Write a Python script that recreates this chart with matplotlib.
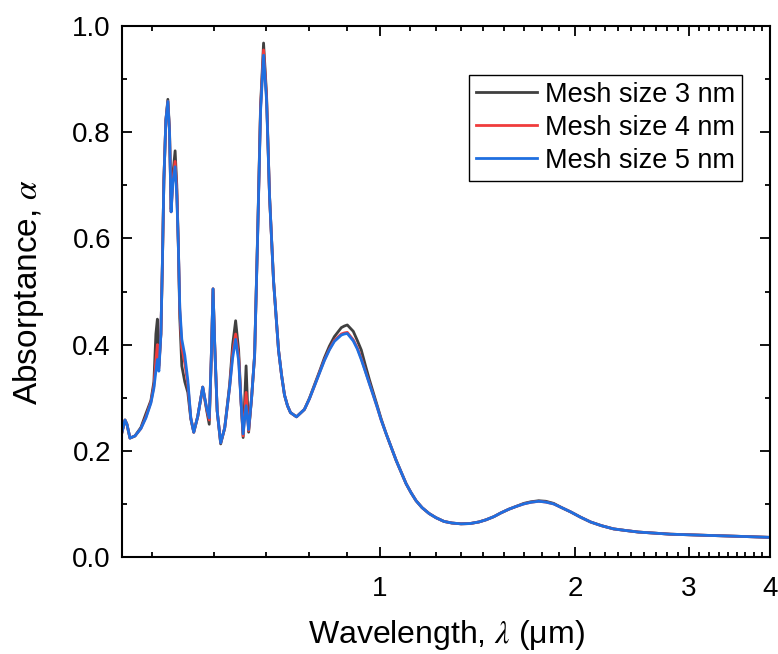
import matplotlib
matplotlib.use('Agg')
import matplotlib.pyplot as plt
from matplotlib.ticker import FixedLocator, NullFormatter

plt.rcParams['font.family'] = ['Liberation Sans', 'DejaVu Sans']
plt.rcParams['mathtext.fontset'] = 'stix'

# wavelength (um)
wavelength = [
    0.4000, 0.4043, 0.4071, 0.4115, 0.4189, 0.4278, 0.4355, 0.4433, 0.4480, 0.4512,
    0.4536, 0.4560, 0.4593, 0.4617, 0.4642, 0.4675, 0.4708, 0.4736, 0.4763, 0.4792,
    0.4831, 0.4860, 0.4886, 0.4912, 0.4947, 0.5000, 0.5054, 0.5108, 0.5162, 0.5236,
    0.5329, 0.5406, 0.5454, 0.5492, 0.5528, 0.5561, 0.5610, 0.5680, 0.5762, 0.5864,
    0.5927, 0.5990, 0.6054, 0.6108, 0.6152, 0.6217, 0.6273, 0.6340, 0.6408, 0.6476,
    0.6545, 0.6615, 0.6686, 0.6757, 0.6854, 0.6976,
    0.7051, 0.7126, 0.7202, 0.7279, 0.7436, 0.7649, 0.7786, 0.7925, 0.8067, 0.8211,
    0.8357, 0.8507, 0.8721, 0.8814, 0.8908, 0.9099, 0.9229, 0.9361, 0.9494, 0.9630,
    0.9767, 0.9907, 1.0047, 1.0227, 1.0410, 1.0596, 1.0785, 1.0978, 1.1174, 1.1374,
    1.1618, 1.1910, 1.2208, 1.2560, 1.2921, 1.3340, 1.3773, 1.4218, 1.4576, 1.4994,
    1.5370, 1.5813, 1.6209, 1.6676, 1.7094, 1.7585, 1.8027, 1.8545, 1.9078, 1.9696,
    2.0405, 2.1141, 2.1981, 2.2935, 2.3932, 2.5060, 2.6520, 2.8067, 3.1549, 3.5711, 4.0000,
]

mesh5 = [
    0.235, 0.258, 0.250, 0.224, 0.228, 0.242, 0.262, 0.290, 0.318, 0.350,
    0.372, 0.350, 0.420, 0.550, 0.710, 0.823, 0.858, 0.800, 0.650, 0.705,
    0.735, 0.680, 0.590, 0.470, 0.410, 0.380, 0.333, 0.262, 0.235, 0.265,
    0.320, 0.280, 0.262, 0.370, 0.505, 0.400, 0.275, 0.215, 0.243, 0.320,
    0.375, 0.410, 0.370, 0.290, 0.232, 0.285, 0.240, 0.300, 0.380, 0.600,
    0.840, 0.945, 0.860, 0.680, 0.520, 0.390,
    0.343, 0.305, 0.285, 0.272, 0.264, 0.278, 0.298, 0.322, 0.346, 0.370,
    0.390, 0.406, 0.418, 0.420, 0.421, 0.407, 0.392, 0.372, 0.350, 0.327,
    0.305, 0.282, 0.258, 0.232, 0.207, 0.182, 0.160, 0.138, 0.121, 0.106,
    0.093, 0.082, 0.074, 0.067, 0.064, 0.0625, 0.063, 0.066, 0.070, 0.076,
    0.083, 0.090, 0.095, 0.100, 0.103, 0.105, 0.1035, 0.100, 0.093, 0.085,
    0.075, 0.066, 0.059, 0.053, 0.050, 0.047, 0.045, 0.043, 0.041, 0.039, 0.037,
]

mesh4 = [
    0.235, 0.258, 0.250, 0.224, 0.228, 0.242, 0.264, 0.292, 0.322, 0.370,
    0.400, 0.355, 0.420, 0.550, 0.710, 0.823, 0.858, 0.800, 0.650, 0.710,
    0.745, 0.690, 0.590, 0.465, 0.395, 0.365, 0.325, 0.262, 0.235, 0.265,
    0.320, 0.278, 0.258, 0.370, 0.505, 0.400, 0.275, 0.215, 0.243, 0.320,
    0.385, 0.420, 0.378, 0.290, 0.228, 0.310, 0.238, 0.300, 0.380, 0.600,
    0.845, 0.955, 0.865, 0.680, 0.520, 0.390,
    0.343, 0.305, 0.285, 0.272, 0.264, 0.278, 0.298, 0.322, 0.347, 0.371,
    0.391, 0.408, 0.420, 0.422, 0.423, 0.409, 0.394, 0.374, 0.351, 0.328,
    0.305, 0.282, 0.258, 0.232, 0.207, 0.182, 0.160, 0.138, 0.121, 0.106,
    0.093, 0.082, 0.074, 0.067, 0.064, 0.0625, 0.063, 0.066, 0.070, 0.076,
    0.083, 0.090, 0.095, 0.100, 0.103, 0.105, 0.1035, 0.100, 0.093, 0.085,
    0.075, 0.066, 0.059, 0.053, 0.050, 0.047, 0.045, 0.043, 0.041, 0.039, 0.037,
]

mesh3 = [
    0.235, 0.258, 0.250, 0.224, 0.228, 0.244, 0.270, 0.295, 0.330, 0.420,
    0.448, 0.360, 0.420, 0.550, 0.710, 0.823, 0.862, 0.805, 0.655, 0.720,
    0.765, 0.700, 0.590, 0.450, 0.360, 0.330, 0.310, 0.260, 0.235, 0.265,
    0.320, 0.275, 0.250, 0.370, 0.505, 0.400, 0.275, 0.213, 0.243, 0.325,
    0.400, 0.445, 0.390, 0.290, 0.225, 0.360, 0.235, 0.300, 0.380, 0.605,
    0.850, 0.968, 0.870, 0.680, 0.520, 0.390,
    0.343, 0.305, 0.285, 0.272, 0.264, 0.278, 0.299, 0.324, 0.349, 0.375,
    0.397, 0.415, 0.432, 0.435, 0.437, 0.425, 0.408, 0.390, 0.362, 0.335,
    0.310, 0.285, 0.260, 0.232, 0.207, 0.182, 0.160, 0.138, 0.121, 0.106,
    0.093, 0.082, 0.074, 0.067, 0.064, 0.0625, 0.063, 0.066, 0.070, 0.076,
    0.083, 0.090, 0.095, 0.101, 0.104, 0.106, 0.105, 0.101, 0.093, 0.085,
    0.075, 0.066, 0.059, 0.053, 0.050, 0.047, 0.045, 0.043, 0.041, 0.039, 0.037,
]

labels = ['Mesh size 3 nm', 'Mesh size 4 nm', 'Mesh size 5 nm']
colors = ['#404040', '#f03c3c', '#1f6fe0']

fig = plt.figure(figsize=(7.78, 6.54), dpi=100)
ax = fig.add_axes([0.1568, 0.1483, 0.8329, 0.8119])

for y, lab, c in zip([mesh3, mesh4, mesh5], labels, colors):
    ax.plot(wavelength, y, color=c, lw=2, label=lab)

ax.set_xscale('log')
ax.set_xlim(0.4, 4.0)
ax.set_ylim(0.0, 1.0)

ax.xaxis.set_major_locator(FixedLocator([1, 2, 3, 4]))
ax.set_xticklabels(['1', '2', '3', '4'])
ax.xaxis.set_minor_locator(FixedLocator([n / 9 for n in range(4, 36) if n % 9 != 0]))
ax.xaxis.set_minor_formatter(NullFormatter())
ax.set_yticks([0.0, 0.2, 0.4, 0.6, 0.8, 1.0])
ax.set_yticks([0.1, 0.3, 0.5, 0.7, 0.9], minor=True)
ax.set_yticklabels(['0.0', '0.2', '0.4', '0.6', '0.8', '1.0'])

ax.tick_params(which='both', direction='in', top=True, right=True, width=1.3, labelsize=20)
ax.tick_params(which='major', length=7)
ax.tick_params(which='minor', length=3.5)
ax.tick_params(axis='x', which='major', pad=14)
ax.tick_params(axis='y', which='major', pad=8)
for s in ax.spines.values():
    s.set_linewidth(1.5)

ax.set_xlabel('Wavelength, $\\lambda$ (μm)', fontsize=23, labelpad=11)
ax.set_ylabel('Absorptance, $\\alpha$', fontsize=24, labelpad=19)

leg = ax.legend(loc='upper right', bbox_to_anchor=(0.957, 0.908), borderaxespad=0,
                fontsize=19.5, frameon=True, fancybox=False, framealpha=1,
                edgecolor='black', handlelength=2.25, handletextpad=0.3,
                labelspacing=0.26, borderpad=0.25)
leg.get_frame().set_linewidth(1.0)

fig.savefig('out.png', dpi=100)
